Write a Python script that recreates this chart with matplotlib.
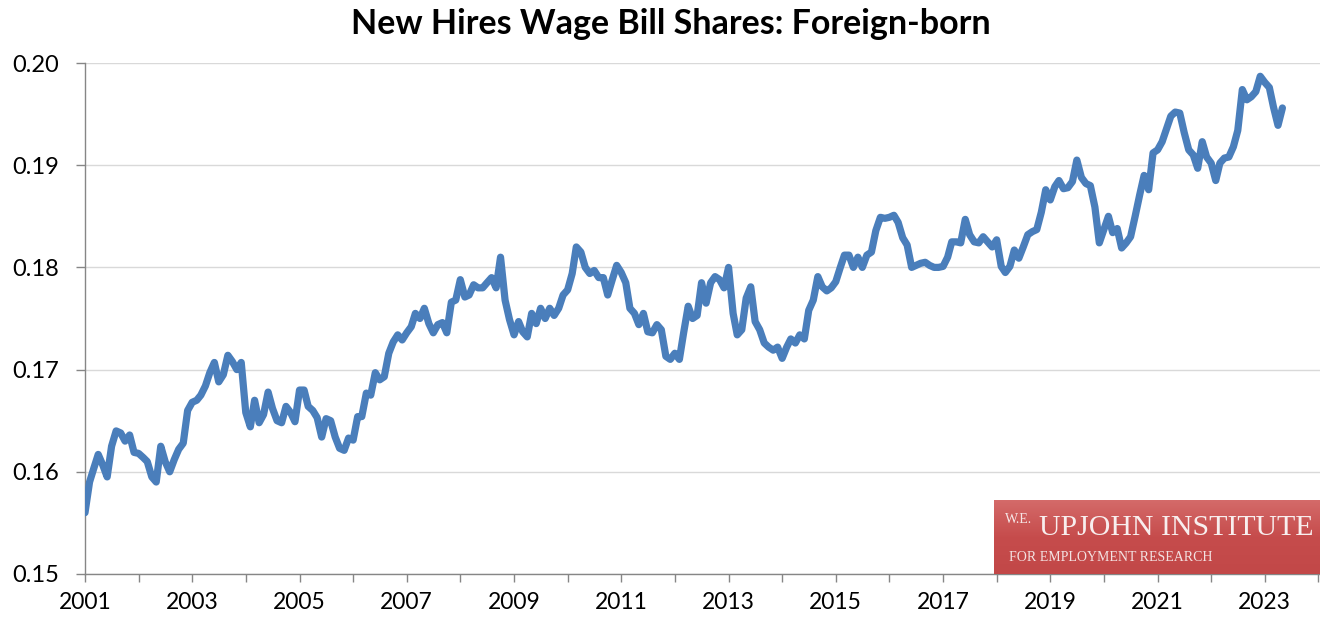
import matplotlib
matplotlib.use('Agg')
import matplotlib.pyplot as plt
import matplotlib.dates as mdates
import numpy as np
import pandas as pd

# monthly wage bill share of foreign-born new hires, Jan 2001 - May 2023
y2001 = [0.1560, 0.1590, 0.1603, 0.1617, 0.1607, 0.1595, 0.1625, 0.1640, 0.1638, 0.1630, 0.1636, 0.1619]
y2002 = [0.1618, 0.1614, 0.1610, 0.1595, 0.1590, 0.1625, 0.1610, 0.1600, 0.1612, 0.1622, 0.1628, 0.1660]
y2003 = [0.1668, 0.1670, 0.1675, 0.1684, 0.1697, 0.1707, 0.1688, 0.1695, 0.1714, 0.1708, 0.1700, 0.1707]
y2004 = [0.1658, 0.1644, 0.1670, 0.1648, 0.1656, 0.1678, 0.1662, 0.1650, 0.1648, 0.1664, 0.1658, 0.1649]
y2005 = [0.1680, 0.1680, 0.1664, 0.1660, 0.1653, 0.1634, 0.1652, 0.1650, 0.1634, 0.1623, 0.1621, 0.1633]
y2006 = [0.1631, 0.1654, 0.1654, 0.1677, 0.1675, 0.1697, 0.1690, 0.1693, 0.1716, 0.1727, 0.1734, 0.1729]
y2007 = [0.1736, 0.1742, 0.1755, 0.1750, 0.1760, 0.1745, 0.1736, 0.1744, 0.1746, 0.1736, 0.1766, 0.1768]
y2008 = [0.1788, 0.1771, 0.1773, 0.1783, 0.1780, 0.1780, 0.1785, 0.1790, 0.1780, 0.1810, 0.1768, 0.1749]
y2009 = [0.1734, 0.1747, 0.1737, 0.1732, 0.1755, 0.1745, 0.1760, 0.1750, 0.1760, 0.1753, 0.1760, 0.1773]
y2010 = [0.1778, 0.1794, 0.1820, 0.1815, 0.1800, 0.1794, 0.1797, 0.1790, 0.1790, 0.1773, 0.1788, 0.1802]
y2011 = [0.1795, 0.1785, 0.1760, 0.1755, 0.1744, 0.1755, 0.1737, 0.1736, 0.1744, 0.1739, 0.1713, 0.1710]
y2012 = [0.1716, 0.1710, 0.1736, 0.1762, 0.1750, 0.1753, 0.1785, 0.1765, 0.1785, 0.1791, 0.1788, 0.1780]
y2013 = [0.1800, 0.1755, 0.1734, 0.1739, 0.1770, 0.1781, 0.1747, 0.1739, 0.1726, 0.1722, 0.1719, 0.1722]
y2014 = [0.1711, 0.1722, 0.1730, 0.1726, 0.1734, 0.1730, 0.1758, 0.1768, 0.1791, 0.1781, 0.1777, 0.1780]
y2015 = [0.1786, 0.1800, 0.1812, 0.1812, 0.1800, 0.1810, 0.1800, 0.1812, 0.1815, 0.1836, 0.1849, 0.1848]
y2016 = [0.1849, 0.1851, 0.1844, 0.1829, 0.1822, 0.1800, 0.1802, 0.1804, 0.1805, 0.1802, 0.1800, 0.1800]
y2017 = [0.1801, 0.1810, 0.1825, 0.1825, 0.1824, 0.1847, 0.1832, 0.1825, 0.1824, 0.1830, 0.1825, 0.1820]
y2018 = [0.1827, 0.1801, 0.1795, 0.1801, 0.1817, 0.1809, 0.1820, 0.1832, 0.1835, 0.1837, 0.1854, 0.1876]
y2019 = [0.1866, 0.1879, 0.1885, 0.1877, 0.1878, 0.1884, 0.1905, 0.1888, 0.1882, 0.1880, 0.1859, 0.1824]
y2020 = [0.1837, 0.1850, 0.1834, 0.1838, 0.1819, 0.1824, 0.1830, 0.1850, 0.1871, 0.1890, 0.1876, 0.1912]
y2021 = [0.1915, 0.1923, 0.1935, 0.1948, 0.1952, 0.1951, 0.1932, 0.1915, 0.1910, 0.1897, 0.1923, 0.1908]
y2022 = [0.1902, 0.1885, 0.1902, 0.1907, 0.1908, 0.1918, 0.1934, 0.1974, 0.1964, 0.1967, 0.1972, 0.1987]
y2023 = [0.1981, 0.1976, 0.1957, 0.1939, 0.1956]

share = (y2001 + y2002 + y2003 + y2004 + y2005 + y2006 + y2007 + y2008 + y2009 + y2010 + y2011 + y2012
         + y2013 + y2014 + y2015 + y2016 + y2017 + y2018 + y2019 + y2020 + y2021 + y2022 + y2023)
months = pd.date_range('2001-01-01', periods=len(share), freq='MS')
y_ticks = [0.15, 0.16, 0.17, 0.18, 0.19, 0.20]

BLUE = '#4A7EBB'
GRID = '#D9D9D9'
AXC = '#868686'
FONT = 'Lato'

fig = plt.figure(figsize=(13.2, 6.22), dpi=100)
ax = fig.add_axes([85/1320, 48/622, 1235/1320, 511/622])

ax.plot(months, share, color=BLUE, lw=5.2, solid_joinstyle='round', solid_capstyle='round', zorder=3)

ax.set_ylim(0.15, 0.20)
ax.set_yticks(y_ticks)
ax.yaxis.set_major_formatter(matplotlib.ticker.FormatStrFormatter('%.2f'))
ax.set_xlim(pd.Timestamp('2001-01-01'), pd.Timestamp('2024-01-12'))
ax.xaxis.set_major_locator(mdates.YearLocator(1))
ax.xaxis.set_major_formatter(matplotlib.ticker.FuncFormatter(
    lambda v, p: mdates.num2date(v).strftime('%Y') if mdates.num2date(v).year % 2 == 1 else ''))

ax.grid(axis='y', color=GRID, lw=1.0, zorder=0)
for s in ['top', 'right']:
    ax.spines[s].set_visible(False)
for s in ['left', 'bottom']:
    ax.spines[s].set_color(AXC)
    ax.spines[s].set_linewidth(1.0)
ax.tick_params(axis='y', length=6.5, width=1.0, color=AXC, pad=12, labelsize=17)
ax.tick_params(axis='x', length=6, width=1.0, color=AXC, pad=7, labelsize=16.5)
for lab in ax.get_xticklabels() + ax.get_yticklabels():
    lab.set_fontfamily(FONT)

fig.text(671/1320, 1 - 24/622, 'New Hires Wage Bill Shares: Foreign-born', ha='center', va='center',
         fontsize=24.5, weight='bold', family=FONT)

# institute logo box, bottom right
lax = fig.add_axes([994/1320, 48/622, 326/1320, 74/622])
grad = np.linspace(0, 1, 64).reshape(-1, 1)
lax.imshow(grad, aspect='auto', cmap=matplotlib.colors.LinearSegmentedColormap.from_list(
    'logo', ['#D46A69', '#C64C4C', '#C24848']), extent=(0, 1, 0, 1), origin='upper')
lax.set_xlim(0, 1); lax.set_ylim(0, 1); lax.axis('off')
lax.text(0.035, 0.73, 'W.E.', fontsize=10, color='#F6E6E6', family='Liberation Serif', va='center')
lax.text(0.138, 0.62, 'UPJOHN INSTITUTE', fontsize=21.5, color='#F8EEEE', family='Liberation Serif', va='center')
lax.text(0.045, 0.22, 'FOR EMPLOYMENT RESEARCH', fontsize=10, color='#F3E2E2', family='Liberation Serif', va='center')

fig.savefig('out.png', dpi=100)
